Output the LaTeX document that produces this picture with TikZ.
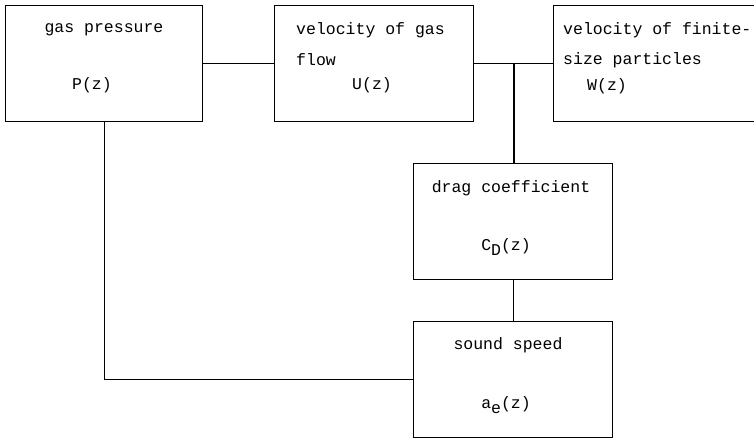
\documentclass[tikz,border=0pt]{standalone}
\usepackage{fontspec}
\setmonofont{Liberation Mono}
\usetikzlibrary{positioning}
\newcommand{\lowr}[1]{\raisebox{-5pt}{#1}}
\tikzset{
  blk/.style={draw, line width=1.4pt, anchor=north west, inner sep=0pt, minimum height=116pt},
  txt/.style={font=\ttfamily\fontsize{16.5}{20}\selectfont, inner sep=0pt},
  wire/.style={line width=1.4pt},
}

\begin{document}
\begin{tikzpicture}[x=1pt, y=-1pt]
  \useasboundingbox (0,0) rectangle (754,439);
  % boxes
  \node[blk, minimum width=197pt] (p) at (5,5) {};
  \node[blk, minimum width=199pt] (u) at (274,5) {};
  \node[blk, minimum width=210pt] (w) at (553,5) {};
  \node[blk, minimum width=199pt] (cd) at (413,163) {};
  \node[blk, minimum width=199pt] (ae) at (413,321) {};
  % texts
  \node[txt] (ptop) at (104,30) {gas pressure};
  \node[txt] (pz) at (92,85) {P(z)};
  \node[txt, anchor=west] (utop) at (296,30) {velocity of gas};
  \node[txt, anchor=west] (umid) at (296,60) {flow};
  \node[txt] (uz) at (372,85) {U(z)};
  \node[txt, anchor=west] (wtop) at (563,30) {velocity of finite-};
  \node[txt, anchor=west] (wmid) at (563,60) {size particles};
  \node[txt] (wz) at (607,86) {W(z)};
  \node[txt] (cdtop) at (511,188) {drag coefficient};
  \node[txt] (cdz) at (506,247) {C\lowr{D}(z)};
  \node[txt] (aetop) at (508,345) {sound speed};
  \node[txt] (aez) at (506,405) {a\lowr{e}(z)};
  % connectors
  \coordinate (j) at (514,63);
  \draw[wire] (p.east) -- (u.west);
  \draw[wire] (u.east) -- (w.west);
  \draw[wire] (j) -- (j |- cd.north);
  \draw[wire] (cd.south) -- (ae.north);
  \draw[wire] (p.south) |- (ae.west);
\end{tikzpicture}
\end{document}
